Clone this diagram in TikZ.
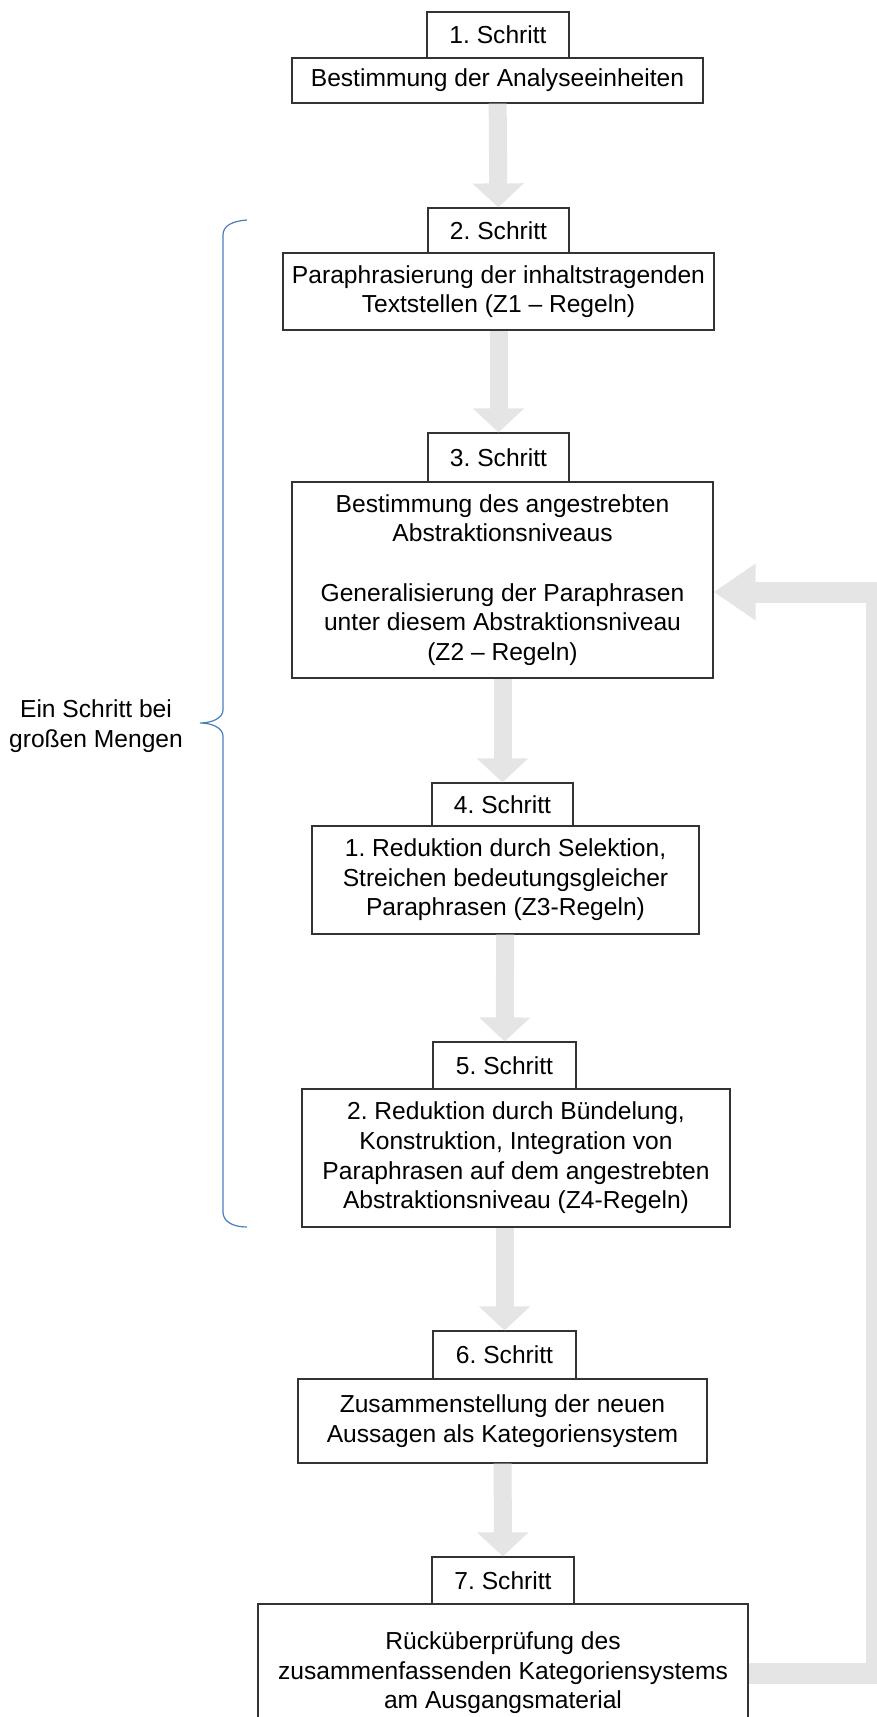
\documentclass[tikz,border=0pt]{standalone}
\usepackage{fontspec}
\setmainfont{Liberation Sans}
\usepackage{xcolor}
\usetikzlibrary{arrows.meta}

\definecolor{bracecol}{HTML}{4A7EBB}

\begin{document}
\frenchspacing
\begin{tikzpicture}[
    x=0.5pt, y=-0.5pt,
    font=\fontsize{12.3}{14.8}\selectfont,
    stepbox/.style={rectangle, draw=black!80, line width=0.6pt, fill=white, inner sep=0pt, align=center},
    arrow/.style={draw=gray!20, line width=9pt, -{Triangle[width=25pt,length=12pt]}},
    back/.style={draw=gray!20, line width=10.5pt, line join=miter, -{Triangle[width=27pt,length=21pt]}},
    brace/.style={draw=bracecol, line width=0.6pt}
]
    \useasboundingbox (0,0) rectangle (877,1717);

    % Steps
    \node[stepbox, minimum width=71pt, minimum height=23pt] (lab1) at (498,35) {1. Schritt};
    \node[stepbox, minimum width=205.5pt, minimum height=22.5pt] (box1) at (497.5,80.5) {Bestimmung der Analyseeinheiten};

    \node[stepbox, minimum width=70.5pt, minimum height=22.5pt] (lab2) at (498.5,230.5) {2. Schritt};
    \node[stepbox, minimum width=215.5pt, minimum height=38.5pt] (box2) at (498.5,291.5) {Paraphrasierung der inhaltstragenden\\Textstellen (Z1 \textendash{} Regeln)};

    \node[stepbox, minimum width=70.5pt, minimum height=24.5pt] (lab3) at (498.5,457.5) {3. Schritt};
    \node[stepbox, minimum width=210.5pt, minimum height=98pt] (box3) at (502.5,580) {Bestimmung des angestrebten\\Abstraktionsniveaus\\[14.8pt]Generalisierung der Paraphrasen\\unter diesem Abstraktionsniveau\\(Z2 \textendash{} Regeln)};

    \node[stepbox, minimum width=70.5pt, minimum height=21.5pt] (lab4) at (502.5,804.5) {4. Schritt};
    \node[stepbox, minimum width=193.5pt, minimum height=54pt] (box4) at (505.5,880) {1. Reduktion durch Selektion,\\Streichen bedeutungsgleicher\\Paraphrasen (Z3-Regeln)};

    \node[stepbox, minimum width=71.5pt, minimum height=23.5pt] (lab5) at (504.5,1065.5) {5. Schritt};
    \node[stepbox, minimum width=214pt, minimum height=69pt] (box5) at (516,1158) {2. Reduktion durch Bündelung,\\Konstruktion, Integration von\\Paraphrasen auf dem angestrebten\\Abstraktionsniveau (Z4-Regeln)};

    \node[stepbox, minimum width=71.5pt, minimum height=24pt] (lab6) at (504.5,1355) {6. Schritt};
    \node[stepbox, minimum width=204.5pt, minimum height=42pt] (box6) at (502.5,1421) {Zusammenstellung der neuen\\Aussagen als Kategoriensystem};

    \node[stepbox, minimum width=71pt, minimum height=23.5pt] (lab7) at (503,1580.5) {7. Schritt};
    \node[stepbox, minimum width=245pt, minimum height=69pt] (box7) at (503,1673) {Rücküberprüfung des\\zusammenfassenden Kategoriensystems\\am Ausgangsmaterial};

    % Arrows
    \draw[arrow] (box1) -- (lab2);
    \draw[arrow] (box2) -- (lab3);
    \draw[arrow] (box3) -- (lab4);
    \draw[arrow] (box4) -- (lab5);
    \draw[arrow] (lab6 |- box5.south) -- (lab6);
    \draw[arrow] (box6) -- (lab7);

    % Feedback loop
    \coordinate (fbx) at (876,0);
    \coordinate (fby) at (0,592);
    \draw[back] (box7.east) -- (box7.east -| fbx) -- (fbx |- fby) -- (box3.east |- fby);

    % Brace
    \draw[brace] (247,220) .. controls (232,221) and (223,226) .. (223,235)
        -- (223,710) .. controls (223,718) and (212,723) .. (200,723)
        .. controls (212,723) and (223,728) .. (223,736)
        -- (223,1212) .. controls (223,1221) and (232,1227) .. (247,1227);
    \node[align=center] (menge) at (96,726) {Ein Schritt bei\\großen Mengen};
\end{tikzpicture}
\end{document}
